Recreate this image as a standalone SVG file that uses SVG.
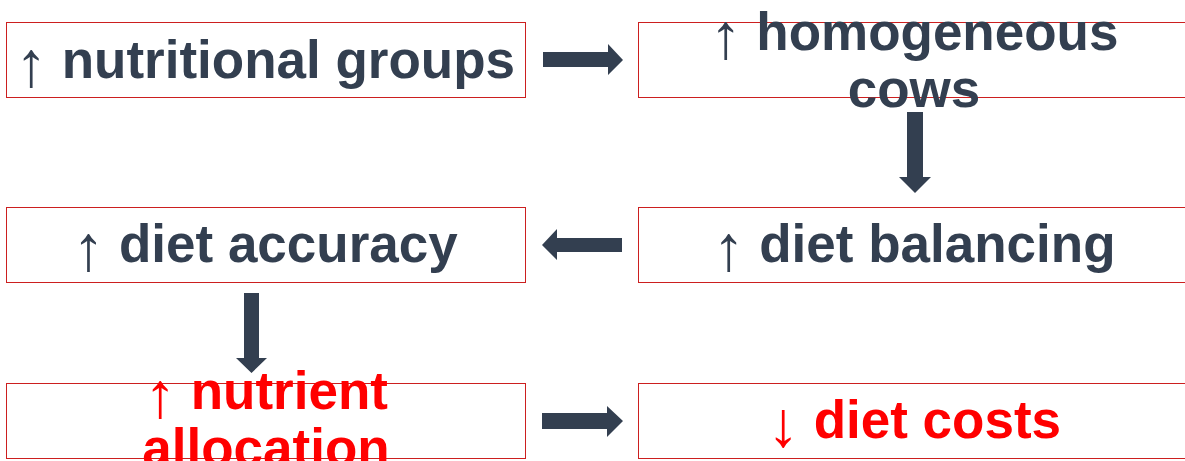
<svg xmlns="http://www.w3.org/2000/svg" width="1185" height="461" viewBox="0 0 1185 461">
<style>
.box{fill:#ffffff;stroke:#cc1f1f;stroke-width:1}
.t{font-family:"Liberation Sans",Arial,sans-serif;font-size:53px;font-weight:bold;text-anchor:middle;fill:#333f50}
.r{fill:#ff0000}
.ar{font-weight:normal;font-size:64px}
.con{fill:#333f50}
</style>
<rect width="1185" height="461" fill="#ffffff"/>
<g id="n1"><rect class="box" x="6.5" y="22.5" width="519" height="75"/><text class="t" x="265" y="78"><tspan class="ar" dy="8">↑</tspan><tspan dy="-8"> nutritional groups</tspan></text></g>
<g id="n2"><rect class="box" x="638.5" y="22.5" width="560" height="75"/><text class="t" x="914" y="50"><tspan class="ar" dy="8">↑</tspan><tspan dy="-8"> homogeneous</tspan></text><text class="t" x="914" y="107">cows</text></g>
<g id="n3"><rect class="box" x="6.5" y="207.5" width="519" height="75"/><text class="t" x="265" y="262"><tspan class="ar" dy="8">↑</tspan><tspan dy="-8"> diet accuracy</tspan></text></g>
<g id="n4"><rect class="box" x="638.5" y="207.5" width="560" height="75"/><text class="t" x="914" y="262"><tspan class="ar" dy="8">↑</tspan><tspan dy="-8"> diet balancing</tspan></text></g>
<g id="n5"><rect class="box" x="6.5" y="383.5" width="519" height="75"/><text class="t r" x="266" y="409"><tspan class="ar" dy="8">↑</tspan><tspan dy="-8"> nutrient</tspan></text><text class="t r" x="266" y="466">allocation</text></g>
<g id="n6"><rect class="box" x="638.5" y="383.5" width="560" height="75"/><text class="t r" x="914" y="438"><tspan class="ar" dy="8">↓</tspan><tspan dy="-8"> diet costs</tspan></text></g>
<g id="connectors">
<polygon class="con" points="543,52 608,52 608,44 623,60 608,75 608,67 543,67"/>
<polygon class="con" points="907,112 923,112 923,177 931,177 915,193 899,177 907,177"/>
<polygon class="con" points="622,238 557,238 557,229 542,245 557,260 557,252 622,252"/>
<polygon class="con" points="244,293 259,293 259,358 267,358 251.5,373 236,358 244,358"/>
<polygon class="con" points="542,413 607,413 607,406 623,421 607,437 607,429 542,429"/>
</g>
</svg>
